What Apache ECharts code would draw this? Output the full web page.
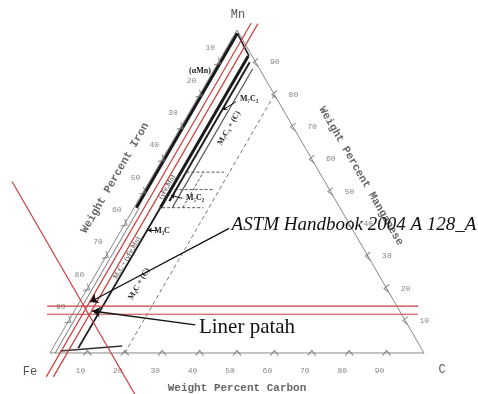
<!DOCTYPE html>
<html><head><meta charset="utf-8">
<script src="https://cdn.jsdelivr.net/npm/echarts/dist/echarts.min.js"></script>
<style>html,body{margin:0;padding:0;background:#fff}#c{width:478px;height:394px}</style>
</head><body><div id="c"></div>
<script>
// ---- data (compositions as [C wt%, Mn wt%]) ----
const carbonTicks = [10,20,30,40,50,60,70,80,90];
const manganeseTicks = [10,20,30,40,50,60,70,80,90];
const ironTicks = [10,20,30,40,50,60,70,80,90];

const triangle = [[0,0],[100,0],[0,100],[0,0]];

const redLineC1 = [[2.7,-7.4],[2.7,102.2]];
const redLineC2 = [[4.6,-7.4],[4.6,102.0]];
const redLineMn1 = [[-8.0,14.5],[91.2,14.5]];
const redLineMn2 = [[-6.8,12.0],[92.4,12.0]];
const redLineFe = [[-36.7,53.1],[29.9,-13.6]];

const bandOuter = [[0.6,45],[0.6,99]];
const bandLeftThin = [[1.4,0],[1.4,45]];
const bandCap = [[0.6,99],[7.2,92]];
const bandInnerLow = [[6.8,1.5],[7.0,45]];
const bandInnerTop = [[7.0,45],[7.0,92]];
const bandRight = [[8.4,47],[8.4,90]];
const bandRight2 = [[10.2,45],[10.2,88]];
const baseTie = [[2.4,0.6],[18.2,2.2]];
const carbonLimit = [[20,0],[20,80]];
const m5c2Tie1 = [[8.5,56],[18.5,56]];
const m5c2Tie2 = [[8.0,50.6],[18.5,50.6]];
const m5c2Tie3 = [[7.5,45],[18.5,45]];
const m5c2Mid = [[13,45],[13,56]];

const arrowAstm = [[28.6,38.6],[2.8,15.8]];
const arrowLiner = [[34.5,8.7],[4.8,13.0]];
const arrowM7C3 = [[10.8,77.8],[8.6,75.3]];
const arrowM5C2 = [[11.4,47.9],[7.9,48.8]];
const arrowM3C = [[9.6,38.0],[7.2,38.0]];

// ---- helpers ----
const SQ = Math.sqrt(3)/2;
function tern(p){ return [p[0] + p[1]/2, p[1]*SQ]; }
function line(pts, color, width, type, z){
  return {type:'line', data: pts.map(tern), symbol:'none', clip:false, silent:true,
    animation:false, z: z||2, lineStyle:{color:color, width:width, type:type||'solid'}};
}
const RED = '#c8403f';
const chevron = 'path://M0,6 L4,0 L8,6';
function tickSeries(vals, toPt, rot, offset){
  return {type:'scatter', clip:false, silent:true, animation:false, z:3,
    symbol: chevron, symbolSize:[8,5], symbolRotate: rot,
    itemStyle:{color:'rgba(0,0,0,0)', borderColor:'#777', borderWidth:1},
    label:{show:true, position:'inside', offset: offset, formatter:'{b}',
      color:'#666', fontSize:8, fontFamily:'Liberation Mono'},
    data: vals.map(v => ({name:String(v), value: tern(toPt(v))}))};
}
function arrows(list, size, width){
  return {type:'line', data:[], silent:true, animation:false, z:6,
    markLine:{silent:true, animation:false, symbol:['none','arrow'], symbolSize:size,
      label:{show:false}, lineStyle:{color:'#111', width:width, type:'solid'},
      data: list.map(a => [{coord: tern(a[0])},{coord: tern(a[1])}])}};
}

const chart = echarts.init(document.getElementById('c'), null, {renderer:'canvas'});
function txt(x,y,t,font,fill,rot){
  return {type:'text', x:x, y:y, rotation: rot||0, z:10, silent:true,
    style:{text:t, font:font, fill:fill, textAlign:'center', textVerticalAlign:'middle',
      align:'center', verticalAlign:'middle'}};
}
const lab = 'bold 8px "Liberation Serif"';
chart.setOption({
  animation:false,
  backgroundColor:'#fff',
  grid:{left:1.38, top:17.4, width:474.98, height:377.74},
  xAxis:{type:'value', min:-13, max:114, show:false},
  yAxis:{type:'value', min:-11, max:90, show:false},
  series:[
    line(triangle, '#888', 1),
    line(carbonLimit, '#777', 1, [4,3]),
    line(m5c2Tie1, '#555', 1, [3,2]),
    line(m5c2Tie2, '#555', 1, [3,2]),
    line(m5c2Tie3, '#555', 1, [3,2]),
    line(m5c2Mid, '#555', 1, [3,2]),
    line(bandLeftThin, '#777', 1),
    line(bandOuter, '#1a1a1a', 3),
    line(bandCap, '#1a1a1a', 1.5),
    line(bandInnerLow, '#1a1a1a', 1.8),
    line(bandInnerTop, '#1a1a1a', 3),
    line(bandRight, '#222', 2),
    line(bandRight2, '#555', 1.2),
    line(baseTie, '#333', 1.5),
    line(redLineC1, RED, 1.2, 'solid', 4),
    line(redLineC2, RED, 1.2, 'solid', 4),
    line(redLineMn1, RED, 1.2, 'solid', 4),
    line(redLineMn2, RED, 1.2, 'solid', 4),
    line(redLineFe, RED, 1.2, 'solid', 4),
    tickSeries(carbonTicks, c => [c,0], 0, [-7,18]),
    tickSeries(manganeseTicks, m => [100-m,m], 90, [19,0]),
    tickSeries(ironTicks, fe => [0,100-fe], -120, [-8,-14]),
    arrows([arrowAstm, arrowLiner], 8, 1.3),
    arrows([arrowM7C3, arrowM5C2, arrowM3C], 4, 1)
  ],
  graphic:[
    txt(238,15,'Mn','12px "Liberation Mono"','#555'),
    txt(30,372,'Fe','12px "Liberation Mono"','#555'),
    txt(442,370,'C','12px "Liberation Mono"','#555'),
    txt(237,388,'Weight Percent Carbon','bold 11px "Liberation Mono"','#666'),
    txt(115,178,'Weight Percent Iron','bold 11px "Liberation Mono"','#666', Math.PI/3),
    txt(361,176,'Weight Percent Manganese','bold 11px "Liberation Mono"','#666', -Math.PI/3),
    txt(200,71,'(αMn)',lab,'#222'),
    txt(249,99,'M₇C₃',lab,'#222'),
    txt(229,128,'M₇C₃ + (C)',lab,'#222', Math.PI/3),
    txt(195,198,'M₅C₂',lab,'#222'),
    txt(162,231,'M₃C',lab,'#222'),
    txt(139,284,'M₃C + (C)',lab,'#222', Math.PI/3),
    txt(167,187,'(γFe,Mn)','7px "Liberation Serif"','#333', Math.PI/3),
    txt(127,258,'M₃C + (γFe,Mn)','7px "Liberation Serif"','#333', Math.PI/3),
    txt(354,225,'ASTM Handbook 2004 A 128_A','italic 19px "Liberation Serif"','#111'),
    txt(247,327,'Liner patah','21px "Liberation Serif"','#111')
  ]
});
</script></body></html>
